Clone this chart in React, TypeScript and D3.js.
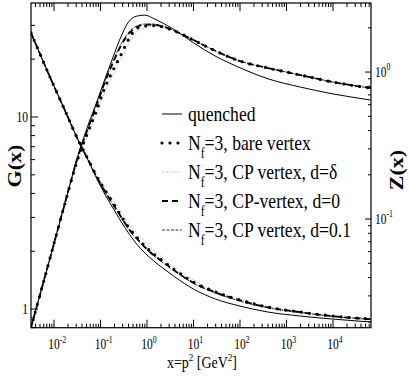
import React from 'react';
import * as d3 from 'd3';

// momentum grid x = p^2 [GeV^2]
const xs = [0.0032, 0.008, 0.017, 0.033, 0.055, 0.08, 0.12, 0.18, 0.28, 0.4, 0.6, 0.9, 1.4, 2.2, 4, 10, 30, 100, 400, 2000, 10000, 65000];

// ghost dressing G(x), left axis
const gQuenched = [27.4, 16.35, 10.88, 7.59, 5.9, 4.87, 4.02, 3.4, 2.84, 2.49, 2.18, 1.96, 1.78, 1.635, 1.468, 1.271, 1.127, 1.037, 0.965, 0.92, 0.887, 0.856];
const gBare = [27.4, 16.35, 10.88, 7.59, 5.97, 4.99, 4.22, 3.61, 3.05, 2.67, 2.37, 2.13, 1.934, 1.778, 1.597, 1.382, 1.226, 1.114, 1.024, 0.965, 0.92, 0.887];
const gDelta = [27.4, 16.35, 10.88, 7.59, 5.99, 5.05, 4.32, 3.74, 3.2, 2.8, 2.49, 2.23, 2.03, 1.843, 1.635, 1.416, 1.241, 1.127, 1.03, 0.968, 0.922, 0.889];
const gD0 = [27.4, 16.35, 10.88, 7.59, 5.94, 4.95, 4.17, 3.56, 3.01, 2.63, 2.34, 2.1, 1.91, 1.76, 1.58, 1.37, 1.22, 1.11, 1.02, 0.963, 0.918, 0.886];
const gD01 = [27.4, 16.35, 10.88, 7.59, 5.93, 4.93, 4.14, 3.53, 2.98, 2.6, 2.31, 2.08, 1.89, 1.74, 1.57, 1.36, 1.21, 1.1, 1.015, 0.96, 0.916, 0.884];

// gluon dressing Z(x), right axis
const zQuenched = [0.0183, 0.0526, 0.127, 0.272, 0.443, 0.606, 0.869, 1.23, 1.76, 2.19, 2.4, 2.44, 2.31, 2.15, 1.93, 1.58, 1.28, 1.07, 0.9, 0.79, 0.71, 0.645];
const zBare = [0.0183, 0.0526, 0.1265, 0.26, 0.4, 0.535, 0.766, 1.008, 1.326, 1.664, 1.977, 2.055, 2.072, 2.024, 1.9, 1.651, 1.39, 1.188, 1.065, 0.954, 0.855, 0.778];
const zDelta = [0.0183, 0.0526, 0.1265, 0.252, 0.379, 0.502, 0.709, 0.939, 1.245, 1.55, 1.872, 2.007, 2.055, 2.024, 1.9, 1.651, 1.39, 1.188, 1.065, 0.954, 0.855, 0.778];
const zD0 = [0.0183, 0.0526, 0.1265, 0.268, 0.422, 0.578, 0.829, 1.134, 1.526, 1.814, 2.024, 2.1, 2.1, 2.04, 1.9, 1.651, 1.39, 1.188, 1.065, 0.954, 0.855, 0.778];
const zD01 = [0.0183, 0.0526, 0.1265, 0.27, 0.419, 0.587, 0.842, 1.16, 1.563, 1.857, 2.055, 2.12, 2.12, 2.055, 1.9, 1.651, 1.39, 1.188, 1.065, 0.954, 0.855, 0.778];

const legendLabels = [
  { main: 'quenched', sub: '', rest: '' },
  { main: 'N', sub: 'f', rest: '=3, bare vertex' },
  { main: 'N', sub: 'f', rest: '=3, CP vertex, d=δ' },
  { main: 'N', sub: 'f', rest: '=3, CP-vertex, d=0' },
  { main: 'N', sub: 'f', rest: '=3, CP vertex, d=0.1' },
];

const W = 409, H = 382;
const L = 31, R = 371, T = 3, B = 327.7;
const FONT = "'Liberation Serif', 'Times New Roman', 'DejaVu Serif', serif";
const SQ = 0.82; // glyphs in the figure are squeezed horizontally

const styles = [
  { stroke: '#000', width: 1, dash: '', cap: 'butt' },
  { stroke: '#000', width: 3.2, dash: '0 8', cap: 'round' },
  { stroke: '#aaa', width: 1, dash: '1 1.5', cap: 'butt' },
  { stroke: '#000', width: 1.8, dash: '6 4', cap: 'butt' },
  { stroke: '#000', width: 0.8, dash: '3 1.5', cap: 'butt' },
];

function isMajor(t: number) {
  const l = Math.log10(t);
  return Math.abs(l - Math.round(l)) < 1e-9;
}

export default function App() {
  const x = d3.scaleLog().domain([0.0032, 65600]).range([L, R]);
  const yG = d3.scaleLog().domain([0.8, 39.2]).range([B, T]);
  const yZ = d3.scaleLog().domain([0.01823, 2.95]).range([B, T]);

  const lineG = d3.line<number>().x((d, i) => x(xs[i])).y(d => yG(d)).curve(d3.curveMonotoneX);
  const lineZ = d3.line<number>().x((d, i) => x(xs[i])).y(d => yZ(d)).curve(d3.curveMonotoneX);

  const gSeries = [gQuenched, gBare, gDelta, gD0, gD01];
  const zSeries = [zQuenched, zBare, zDelta, zD0, zD01];
  const order = [2, 4, 3, 1, 0];

  const xTicks = x.ticks();
  const gTicks = yG.ticks();
  const zTicks = yZ.ticks();

  const legX = 162, legY = 114, legDy = 29;
  const txt = { fontFamily: FONT };

  return (
    <div style={{ position: 'absolute', left: 0, top: 0 }}>
      <svg width={W} height={H} style={{ display: 'block', background: '#fff', fontFamily: FONT }}>
        <defs>
          <clipPath id="plot"><rect x={L} y={T} width={R - L} height={B - T} /></clipPath>
        </defs>

        <g clipPath="url(#plot)" fill="none">
          {order.map(k => (
            <g key={k}>
              <path d={lineG(gSeries[k]) || ''} stroke={styles[k].stroke} strokeWidth={styles[k].width}
                strokeDasharray={styles[k].dash} strokeLinecap={styles[k].cap as any} />
              <path d={lineZ(zSeries[k]) || ''} stroke={styles[k].stroke} strokeWidth={styles[k].width}
                strokeDasharray={styles[k].dash} strokeLinecap={styles[k].cap as any} />
            </g>
          ))}
        </g>

        {/* frame */}
        <rect x={L} y={T} width={R - L} height={B - T} fill="none" stroke="#000" strokeWidth={1.2} />

        {/* bottom & top ticks */}
        {xTicks.map((t, i) => {
          const len = isMajor(t) ? 8 : 4;
          return (
            <g key={'x' + i} stroke="#000" strokeWidth={1}>
              <line x1={x(t)} x2={x(t)} y1={B} y2={B - len} />
              <line x1={x(t)} x2={x(t)} y1={T} y2={T + len} />
            </g>
          );
        })}
        {xTicks.filter(isMajor).map((t, i) => (
          <g key={'xl' + i} transform={`translate(${x(t)},349) scale(${SQ},1)`}>
            <text x={-7} y={0} fontSize={14} style={txt}>10<tspan dy={-6} fontSize={9.5}>{Math.round(Math.log10(t))}</tspan></text>
          </g>
        ))}

        {/* left G ticks */}
        {gTicks.map((t, i) => {
          const len = isMajor(t) ? 7 : 4;
          return <line key={'g' + i} x1={L} x2={L + len} y1={yG(t)} y2={yG(t)} stroke="#000" strokeWidth={1} />;
        })}
        {gTicks.filter(isMajor).map((t, i) => (
          <g key={'gl' + i} transform={`translate(28,${yG(t) + 5}) scale(${SQ},1)`}>
            <text textAnchor="end" fontSize={14} style={txt}>{String(t)}</text>
          </g>
        ))}

        {/* right Z ticks */}
        {zTicks.map((t, i) => {
          const len = isMajor(t) ? 6 : 3;
          return <line key={'z' + i} x1={R} x2={R - len} y1={yZ(t)} y2={yZ(t)} stroke="#000" strokeWidth={1} />;
        })}
        {zTicks.filter(isMajor).map((t, i) => (
          <g key={'zl' + i} transform={`translate(375,${yZ(t) + 5}) scale(${SQ},1)`}>
            <text fontSize={14} style={txt}>10<tspan dy={-7} fontSize={9.5}>{Math.round(Math.log10(t))}</tspan></text>
          </g>
        ))}

        {/* axis titles */}
        <g transform={`translate(21,166) scale(${SQ},1) rotate(-90)`}>
          <text textAnchor="middle" fontSize={22} fontWeight="bold" style={txt}>G(x)</text>
        </g>
        <g transform={`translate(403,170) scale(${SQ},1) rotate(-90)`}>
          <text textAnchor="middle" fontSize={22} fontWeight="bold" style={txt}>Z(x)</text>
        </g>
        <g transform={`translate(202,368) scale(${SQ},1)`}>
          <text textAnchor="middle" fontSize={17} style={txt}>x=p<tspan dy={-7} fontSize={11}>2</tspan><tspan dy={7}> [GeV</tspan><tspan dy={-7} fontSize={11}>2</tspan><tspan dy={7}>]</tspan></text>
        </g>

        {/* legend */}
        {legendLabels.map((lab, k) => {
          const y = legY + k * legDy;
          return (
            <g key={'leg' + k}>
              <line x1={legX} x2={legX + 20} y1={y} y2={y} stroke={styles[k].stroke} strokeWidth={styles[k].width}
                strokeDasharray={styles[k].dash} strokeLinecap={styles[k].cap as any} />
              <g transform={`translate(188,${y + 6.5}) scale(${SQ},1)`}>
                <text fontSize={21.5} style={txt}>
                  {lab.main}
                  {lab.sub && <tspan dy={8} fontSize={14}>{lab.sub}</tspan>}
                  {lab.sub && <tspan dy={-8}>{lab.rest}</tspan>}
                </text>
              </g>
            </g>
          );
        })}
      </svg>
    </div>
  );
}
